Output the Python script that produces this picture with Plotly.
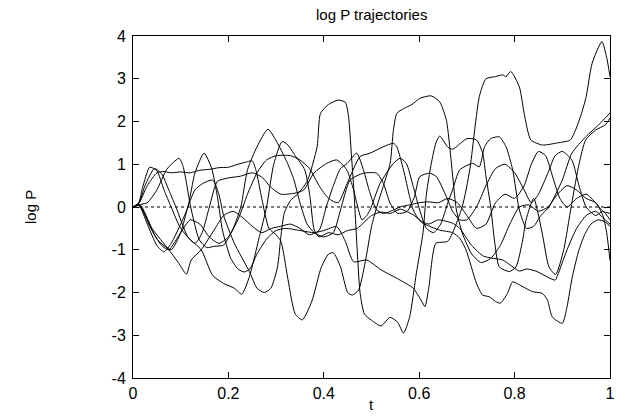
import plotly.graph_objects as go

# ---- data (t, log P) ----
t1 = [0,0.012,0.03,0.05,0.065,0.08,0.1,0.115,0.13,0.149,0.165,0.177,0.1875,0.205,0.22,0.233,0.245,0.26,0.28,0.3,0.32,0.35,0.38,0.4,0.427,0.445,0.4625,0.49,0.52,0.56,0.5875,0.605,0.612,0.62,0.635,0.66,0.69,0.706,0.726,0.74,0.76,0.775,0.782,0.792,0.81,0.82,0.834,0.858,0.89,0.917,0.938,0.95,0.9625,0.983,0.993,1.0]
v1 = [0,0.05,-0.4,-0.9,-1.05,-0.85,-0.4,0.0,0.8,1.26,0.9,0.24,-0.54,-1.2,-1.45,-1.52,-1.45,-1.1,-0.75,-0.55,-0.5,-0.55,-0.6,-0.55,-0.46,-0.8,-1.28,-1.24,-1.47,-1.71,-1.9,-2.2,-2.33,-1.9,-0.85,-0.8,0.0,0.87,2.58,3.0,3.05,3.09,3.05,3.17,2.81,2.19,1.57,1.45,1.5,1.57,2.11,2.58,3.36,3.87,3.5,3.05]

t2 = [0,0.012,0.025,0.045,0.06,0.075,0.09,0.115,0.143,0.167,0.19,0.2125,0.228,0.244,0.265,0.28,0.295,0.3125,0.325,0.34,0.36,0.371,0.38,0.39,0.41,0.43,0.45,0.47,0.5,0.52,0.54,0.56,0.59,0.608,0.643,0.67,0.685,0.698,0.72,0.733,0.747,0.76,0.77,0.785,0.796,0.81,0.8375,0.858,0.869,0.879,0.9,0.91,0.921,0.935,0.948,0.96,0.975,0.99,1.0]
v2 = [0,0.08,0.5,0.9,0.78,0.4,0.0,-0.7,-1.0,-1.6,-1.79,-1.9,-2.04,-1.63,-0.69,0.0,1.0,1.53,1.45,1.2,0.87,0.24,-0.54,-0.7,-0.6,-0.65,-0.55,-0.5,-0.2,-0.12,-0.15,-0.05,-0.2,-0.38,-0.54,-0.6,-0.73,-1.0,-1.78,-2.06,-2.1,-2.21,-2.25,-2.02,-1.75,-1.82,-1.98,-2.02,-2.18,-2.57,-2.72,-2.33,-1.63,-1.0,-0.62,-0.4,-0.3,-0.35,-0.45]

t3 = [0,0.012,0.03,0.05,0.065,0.08,0.1,0.12,0.14,0.16,0.18,0.2,0.22,0.24,0.25,0.258,0.27,0.285,0.3,0.31,0.325,0.34,0.355,0.375,0.395,0.41,0.42,0.435,0.45,0.46,0.473,0.487,0.5,0.511,0.525,0.539,0.546,0.553,0.567,0.585,0.601,0.625,0.643,0.657,0.664,0.671,0.678,0.69,0.71,0.73,0.75,0.77,0.79,0.81,0.83,0.85,0.87,0.89,0.91,0.93,0.95,0.97,0.985,0.993,1.0]
v3 = [0,0.08,0.5,0.8,0.83,0.8,0.82,0.8,0.86,0.88,0.92,0.93,1.0,1.06,1.08,0.85,0.2,-0.5,-0.65,-0.8,-1.7,-2.5,-2.64,-2.2,-1.4,-1.1,-1.07,-1.4,-2.0,-2.06,-1.94,-1.28,-0.46,0.0,0.5,1.02,1.8,2.19,2.3,2.4,2.54,2.6,2.46,2.03,1.41,0.63,-0.07,-0.6,-1.1,-1.3,-1.2,-0.9,-0.4,0.0,0.05,-0.1,0.0,0.3,0.5,0.4,0.2,0.1,-0.2,-0.6,-1.25]

t4 = [0,0.012,0.03,0.05,0.07,0.085,0.097,0.105,0.111,0.121,0.139,0.155,0.17,0.19,0.21,0.226,0.24,0.26,0.283,0.303,0.324,0.3375,0.35,0.365,0.38,0.4,0.42,0.435,0.455,0.483,0.511,0.525,0.539,0.555,0.575,0.59,0.601,0.622,0.636,0.657,0.67,0.685,0.7,0.72,0.74,0.76,0.78,0.8,0.82,0.835,0.85,0.87,0.885,0.9,0.92,0.935,0.95,0.97,0.985,1.0]
v4 = [0,0.05,0.1,0.4,0.87,1.05,1.14,0.95,0.63,0.0,-0.77,-0.95,-0.92,-0.89,-0.5,0.0,0.87,1.41,1.82,1.49,1.02,0.63,0.1,-0.4,-0.6,-0.7,-0.6,-0.07,0.63,0.79,0.79,0.55,0.09,-0.15,-0.1,0.24,0.71,0.79,0.71,0.24,-0.1,-0.3,-0.3,0.0,0.5,0.9,1.0,0.8,0.4,0.1,0.3,0.8,1.2,1.3,1.1,0.5,0.0,-0.2,-0.1,-0.3]

t5 = [0,0.012,0.02,0.035,0.05,0.065,0.08,0.1,0.13,0.145,0.16,0.177,0.2,0.225,0.25,0.27,0.29,0.31,0.3375,0.358,0.379,0.406,0.427,0.448,0.4625,0.469,0.48,0.49,0.497,0.518,0.546,0.56,0.573,0.5875,0.601,0.615,0.63,0.645,0.66,0.67,0.685,0.712,0.726,0.737,0.75,0.768,0.782,0.796,0.81,0.825,0.84,0.855,0.872,0.9,0.92,0.949,0.976,1.0]
v5 = [0,0.1,0.45,0.93,0.85,0.4,0.0,-0.5,-0.85,-0.6,0.0,0.6,0.68,0.72,0.8,0.7,0.45,0.3,0.32,0.4,0.79,1.02,1.1,0.87,0.4,0.1,-0.3,-0.2,-0.07,0.55,1.02,1.14,1.02,0.48,-0.07,-0.5,-0.6,-0.4,0.1,0.4,0.87,1.02,0.94,1.41,1.6,1.64,1.41,0.87,-0.07,-0.5,-0.45,-0.2,0.0,0.63,1.26,1.64,1.92,2.2]

t6 = [0,0.012,0.03,0.05,0.08,0.1,0.115,0.13,0.146,0.167,0.18,0.19,0.2125,0.244,0.26,0.275,0.289,0.303,0.31,0.317,0.33,0.345,0.365,0.386,0.393,0.41,0.43,0.445,0.452,0.458,0.463,0.47,0.476,0.485,0.5,0.52,0.539,0.555,0.567,0.58,0.594,0.608,0.615,0.625,0.635,0.643,0.66,0.67,0.7,0.72,0.733,0.74,0.75,0.758,0.768,0.789,0.803,0.817,0.824,0.84,0.858,0.872,0.886,0.903,0.914,0.921,0.935,0.949,0.97,0.99,1.0]
v6 = [0,0.05,-0.3,-0.75,-1.0,-0.6,0.0,0.4,0.55,0.63,0.3,-0.2,-0.85,-1.51,-1.9,-2.0,-1.9,-1.4,-0.69,-0.15,0.15,0.3,0.6,1.41,2.19,2.4,2.5,2.45,2.1,1.2,0.4,-1.0,-2.0,-2.5,-2.65,-2.78,-2.58,-2.7,-2.95,-2.57,-1.55,-0.6,0.3,1.0,1.5,1.66,1.4,1.35,1.6,1.57,1.26,0.71,0.0,-0.8,-1.4,-1.51,-1.4,-0.77,-0.3,0.2,-0.62,-1.4,-1.58,-1.0,-0.3,0.16,1.0,1.57,1.8,1.92,2.08]

t7 = [0,0.015,0.04,0.075,0.095,0.112,0.122,0.143,0.17,0.19,0.21,0.23,0.25,0.27,0.29,0.31,0.33,0.35,0.37,0.39,0.405,0.42,0.435,0.449,0.469,0.483,0.497,0.511,0.525,0.54,0.56,0.58,0.6,0.62,0.64,0.66,0.68,0.7,0.72,0.74,0.76,0.78,0.8,0.82,0.835,0.85,0.865,0.88,0.895,0.91,0.93,0.95,0.97,0.985,1.0]
v7 = [0,0.05,-0.5,-1.0,-1.3,-1.57,-1.24,-1.0,-0.54,-0.2,-0.1,-0.25,-0.45,-0.6,-0.5,-0.45,-0.4,-0.5,-0.65,-0.55,0.0,0.5,0.9,1.02,1.26,0.87,0.32,-0.07,-0.15,-0.1,0.0,0.05,0.1,0.12,0.1,0.2,0.1,-0.2,-0.5,-0.4,0.1,0.3,0.2,0.5,1.0,1.3,1.2,0.7,0.2,0.0,0.2,0.3,0.1,-0.1,-0.15]

t8 = [0,0.015,0.035,0.06,0.075,0.1,0.12,0.14,0.16,0.18,0.2,0.22,0.24,0.26,0.28,0.3,0.33,0.35,0.37,0.39,0.41,0.43,0.449,0.476,0.497,0.525,0.546,0.553,0.567,0.58,0.5875,0.6,0.62,0.64,0.67,0.685,0.71,0.735,0.775,0.79,0.81,0.825,0.845,0.885,0.89,0.91,0.93,0.95,0.97,0.985,1.0]
v8 = [0,0.03,-0.45,-0.9,-1.0,-0.6,-0.3,-0.4,-0.7,-0.85,-0.7,-0.3,0.3,0.8,1.1,1.2,1.2,1.1,0.9,0.5,0.2,0.1,0.55,1.18,1.26,1.41,1.49,1.41,0.87,0.24,-0.07,-0.3,-0.4,-0.3,-0.38,-0.5,-0.9,-1.15,-1.24,-1.35,-1.5,-1.45,-1.5,-1.71,-1.6,-1.0,-0.5,-0.2,-0.1,-0.25,-0.4]

series = [(t1, v1), (t2, v2), (t3, v3), (t4, v4), (t5, v5), (t6, v6), (t7, v7), (t8, v8)]

x_ticks = [0, 0.2, 0.4, 0.6, 0.8, 1]
x_labels = ["0", "0.2", "0.4", "0.6", "0.8", "1"]
y_ticks = [-4, -3, -2, -1, 0, 1, 2, 3, 4]

fig = go.Figure()
for tt, vv in series:
    fig.add_trace(go.Scatter(x=tt, y=vv, mode="lines",
                             line=dict(color="black", width=1, shape="spline", smoothing=0.6),
                             showlegend=False, hoverinfo="skip"))

fig.add_hline(y=0, line=dict(color="black", width=1, dash="dot"), layer="below")

font_main = "Liberation Sans, Arial, Helvetica, sans-serif"
axis_common = dict(showline=True, linecolor="black", linewidth=1, mirror="ticks",
                   ticks="inside", ticklen=6, tickcolor="black", tickwidth=1,
                   showgrid=False, zeroline=False,
                   tickfont=dict(family=font_main, size=16, color="black"))

fig.update_layout(
    width=627, height=419,
    margin=dict(l=133, r=14, t=36, b=41),
    paper_bgcolor="white", plot_bgcolor="white",
    xaxis=dict(range=[0, 1], tickvals=x_ticks, ticktext=x_labels, ticklabelstandoff=1, **axis_common),
    yaxis=dict(range=[-4, 4], tickvals=y_ticks, ticktext=[str(v) for v in y_ticks], ticklabelstandoff=3, **axis_common),
    annotations=[
        dict(text="log P trajectories", xref="paper", yref="paper", x=0.5, y=1,
             yanchor="middle", yshift=22, showarrow=False,
             font=dict(family=font_main, size=15, color="black")),
        dict(text="t", xref="paper", yref="paper", x=0.5, y=0,
             yanchor="middle", yshift=-26, showarrow=False,
             font=dict(family=font_main, size=15, color="black")),
        dict(text="log P", xref="paper", yref="paper", x=0, y=0.5,
             xanchor="center", yanchor="middle", xshift=-103, textangle=-90, showarrow=False,
             font=dict(family=font_main, size=15, color="black")),
    ],
)

fig.write_html("out.html")
